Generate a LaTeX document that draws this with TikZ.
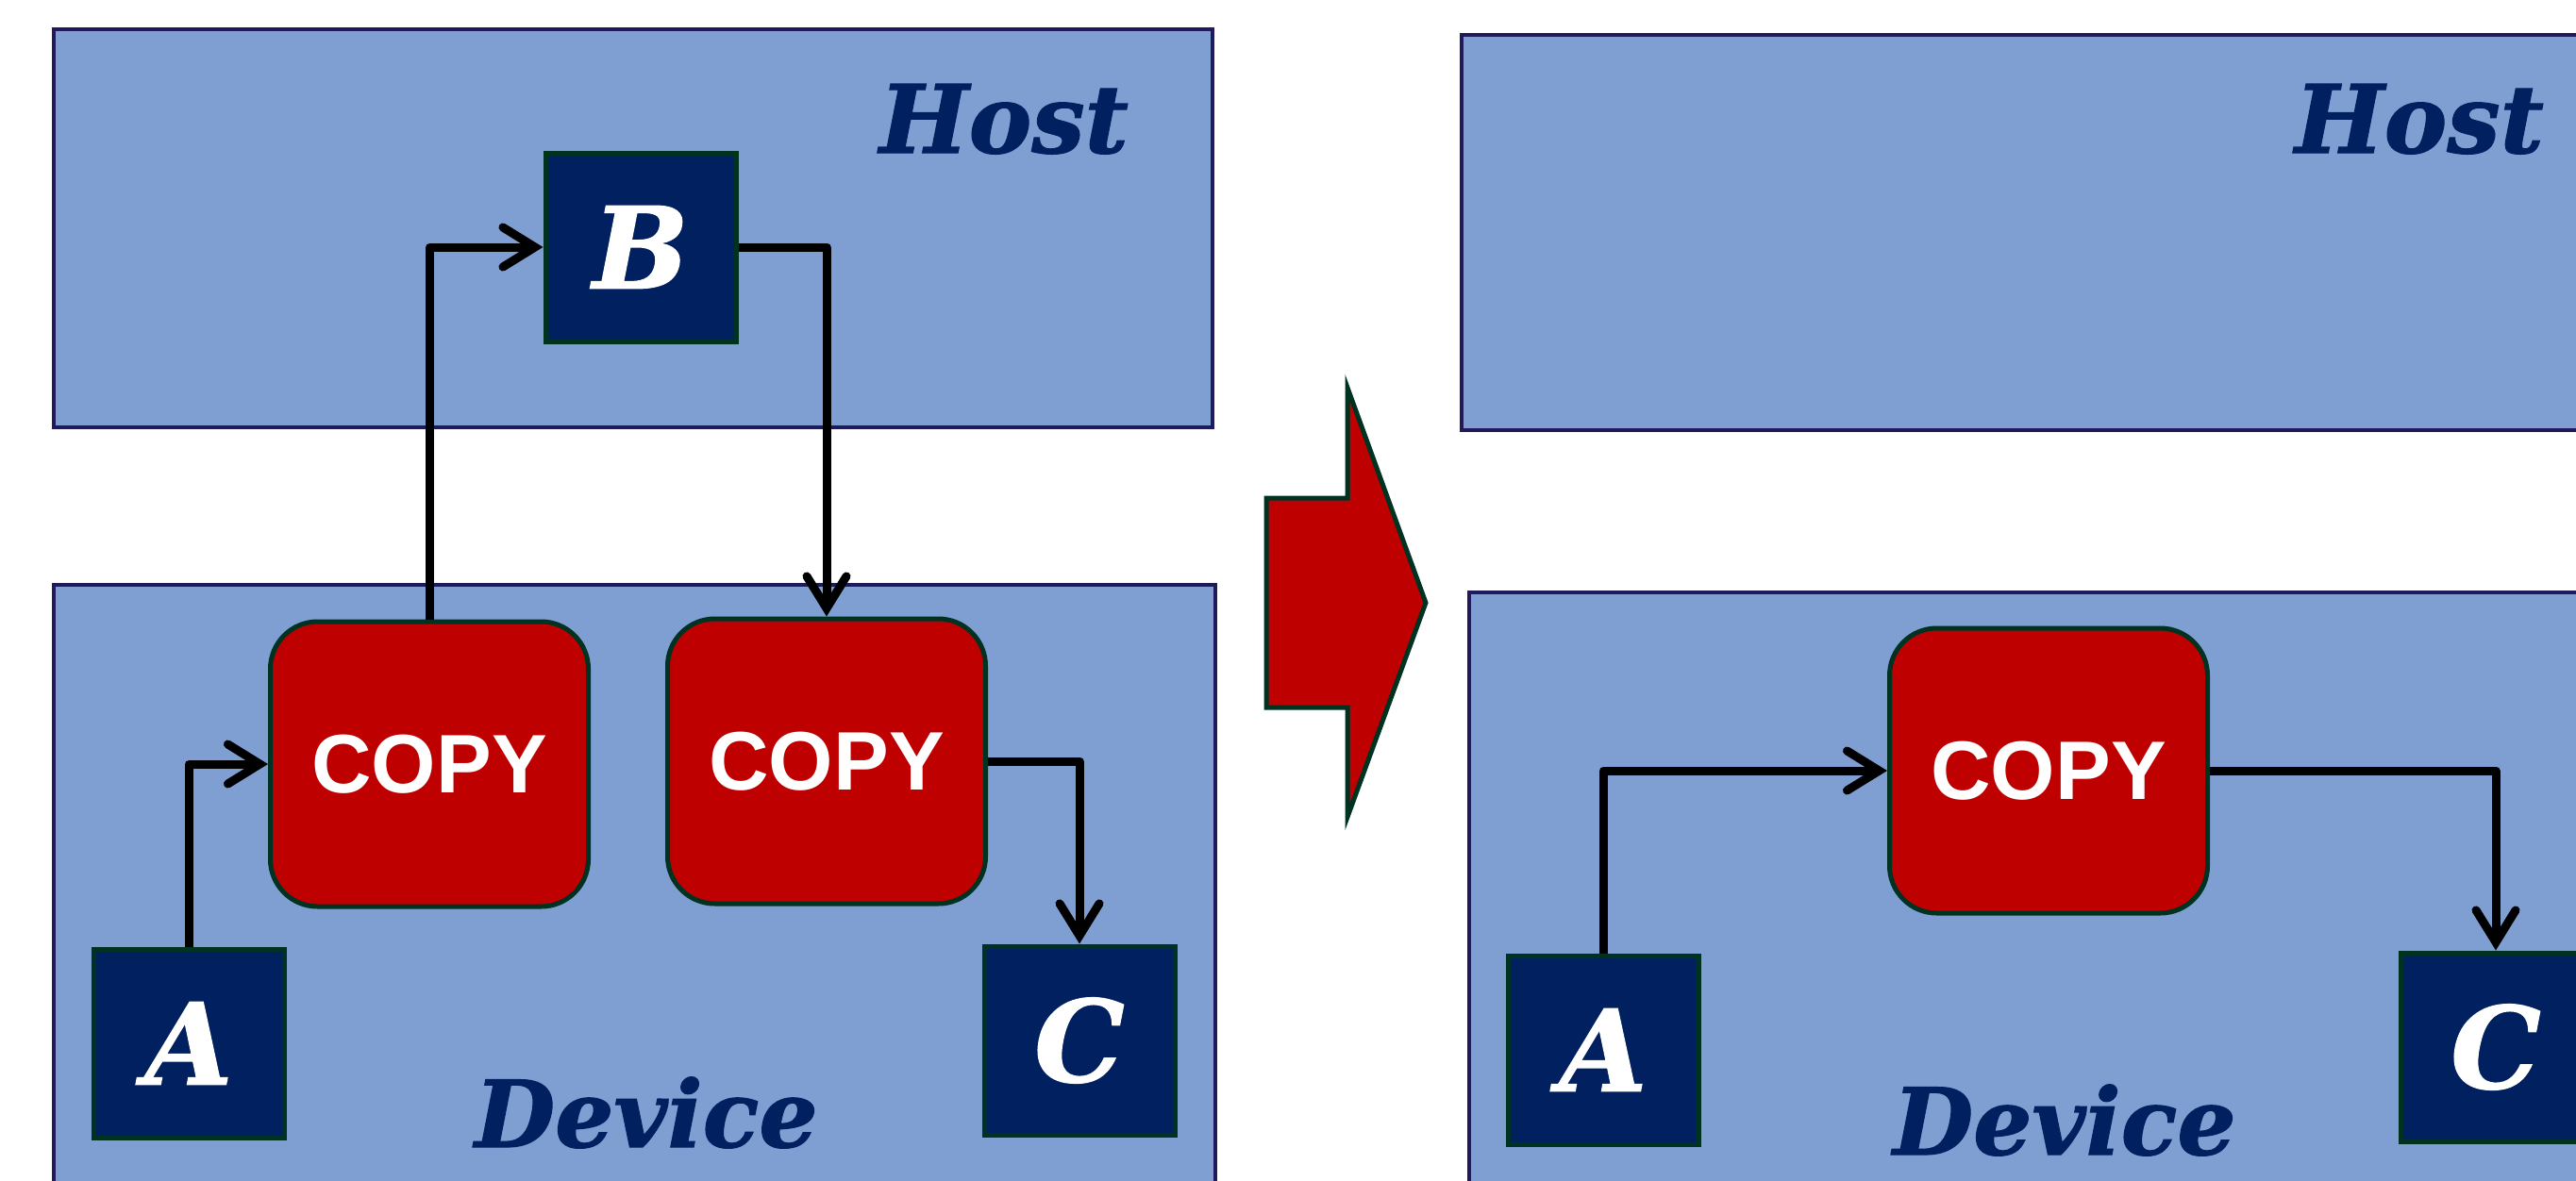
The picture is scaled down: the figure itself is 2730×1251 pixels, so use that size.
\documentclass[tikz,border=0pt]{standalone}
\usepackage{fontspec}
\setmainfont{DejaVu Serif}
\newfontfamily\slabfont{DejaVu Serif}[BoldItalicFeatures={FakeBold=1.2}]
\newfontfamily\copyfont{Liberation Sans}
\usetikzlibrary{arrows.meta}

\definecolor{regionfill}{RGB}{127,158,210}
\definecolor{regionline}{RGB}{30,26,92}
\definecolor{datafill}{RGB}{0,32,96}
\definecolor{dataline}{RGB}{0,50,34}
\definecolor{copyred}{RGB}{190,0,0}
\definecolor{labelnavy}{RGB}{0,32,96}

\tikzset{
  region/.style={draw=regionline, fill=regionfill, line width=4pt, inner sep=0pt},
  databox/.style={draw=dataline, fill=datafill, line width=5pt,
    minimum width=202pt, minimum height=200pt, inner sep=0pt, text=white,
    font=\slabfont\bfseries\itshape\fontsize{120}{120}\selectfont},
  copybox/.style={draw=dataline, fill=copyred, line width=5pt, rounded corners=50pt,
    minimum width=337pt, minimum height=302pt, inner sep=0pt, text=white,
    font=\copyfont\bfseries\fontsize{88}{88}\selectfont},
  hostlabel/.style={text=labelnavy, inner sep=0pt, anchor=base,
    font=\slabfont\bfseries\itshape\fontsize{100}{100}\selectfont},
  devicelabel/.style={text=labelnavy, inner sep=0pt, anchor=base,
    font=\slabfont\bfseries\itshape\fontsize{98}{98}\selectfont},
  flow/.style={draw=black, line width=9pt, line join=round,
    -{Straight Barb[length=34pt,width=42pt,line cap=round]}},
  bigarrow/.style={draw=dataline, fill=copyred, line width=5pt, line join=miter},
}

\begin{document}
\begin{tikzpicture}[x=1pt, y=-1pt]
  \path[use as bounding box, clip] (0,0) rectangle (2730,1251);

  % ---------- before: two copies through the host ----------
  \node[region, minimum width=1228pt, minimum height=422pt] (hostL) at (671,242) {};
  \node[region, minimum width=1231pt, minimum height=660pt] (devL) at (672.5,950) {};
  \node[hostlabel] (hostLlbl) at (1064,162) {Host};
  \node[devicelabel] (devLlbl) at (685,1216) {Device};

  \node[databox] (b) at (679,262) {B};
  \node[copybox] (copy1) at (455,810) {COPY};
  \node[copybox] (copy2) at (876,807) {COPY};
  \node[databox] (a) at (200,1106) {A};
  \node[databox] (c) at (1144,1103) {C};

  \draw[flow] (a.north) |- (copy1.west);
  \draw[flow] (copy1.north) |- (b.west);
  \draw[flow] (b.east) -| (copy2.north);
  \draw[flow] (copy2.east) -| (c.north);

  % ---------- transition arrow ----------
  \draw[bigarrow] (1342,528) -- (1428,528) -- (1428,411) -- (1511,639)
    -- (1428,866) -- (1428,750) -- (1342,750) -- cycle;

  % ---------- after: one copy on the device ----------
  \node[region, minimum width=1220pt, minimum height=419pt] (hostR) at (2159,246.5) {};
  \node[region, minimum width=1220pt, minimum height=660pt] (devR) at (2167,958) {};
  \node[hostlabel] (hostRlbl) at (2564,162) {Host};
  \node[devicelabel] (devRlbl) at (2188,1224) {Device};

  \node[copybox] (rcopy) at (2171,817) {COPY};
  \node[databox] (ra) at (1699,1113) {A};
  \node[databox] (rc) at (2645,1110) {C};

  \draw[flow] (ra.north) |- (rcopy.west);
  \draw[flow] (rcopy.east) -| (rc.north);
\end{tikzpicture}
\end{document}
